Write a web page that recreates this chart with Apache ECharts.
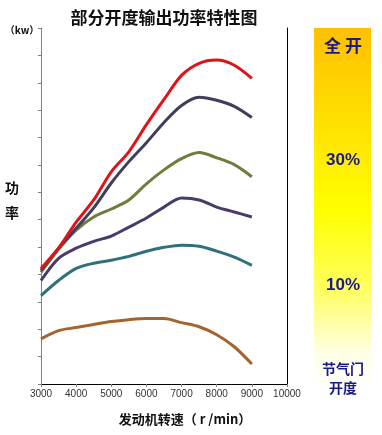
<!DOCTYPE html>
<html><head><meta charset="utf-8">
<script src="https://cdn.jsdelivr.net/npm/echarts@6/dist/echarts.min.js"></script>
<style>html,body{margin:0;padding:0;background:#fff;}#c{width:382px;height:435px;}</style>
</head><body><div id="c"></div>
<script>
var rpm = [3000,3500,4000,4500,5000,5500,6000,6500,7000,7500,8000,8500,9000];
var full   = [4.22,4.96,5.91,6.72,7.75,8.48,9.47,10.39,11.27,11.71,11.83,11.64,11.16];
var slate  = [4.15,4.96,5.69,6.43,7.34,8.12,8.81,9.55,10.17,10.47,10.36,10.14,9.73];
var olive  = [4.08,4.92,5.62,6.10,6.39,6.72,7.31,7.82,8.23,8.45,8.26,8.01,7.57];
var purple = [3.78,4.59,4.96,5.21,5.40,5.73,6.06,6.46,6.79,6.72,6.46,6.28,6.10];
var teal   = [3.23,3.78,4.22,4.41,4.52,4.66,4.85,4.99,5.07,5.03,4.85,4.63,4.33];
var brown  = [1.65,1.95,2.06,2.17,2.28,2.35,2.39,2.39,2.24,2.09,1.80,1.36,0.73];
var xTicks = [3000,4000,5000,6000,7000,8000,9000,10000];
var panelLabels = ['全 开','30%','10%'];

function pts(arr){ return rpm.map(function(x,i){ return [x, arr[i]]; }); }
function ser(arr,color){
  return {type:'line', data:pts(arr), smooth:0.3, symbol:'none', xAxisIndex:0, yAxisIndex:0,
    lineStyle:{color:color,width:3}, z:3};
}
var chart = echarts.init(document.getElementById('c'));
var navy = '#1a1a8a';
chart.setOption({
  animation:false,
  backgroundColor:'#fff',
  title:{text:'部分开度输出功率特性图', left:159, top:4, textAlign:'center',
    textStyle:{fontSize:17,fontWeight:'bold',color:'#111',fontFamily:'Noto Sans CJK SC'}},
  grid:{left:41,right:95,top:28,bottom:51},
  xAxis:[{type:'value',min:3000,max:10000,interval:1000,position:'bottom',
    axisLine:{lineStyle:{color:'#808080',width:1}},
    axisTick:{show:true,length:3,lineStyle:{color:'#808080'}},
    axisLabel:{fontSize:10,color:'#333',margin:5,fontFamily:'Liberation Sans',
      formatter:function(v){ return xTicks.indexOf(v) >= 0 ? String(v) : ''; }},
    splitLine:{show:false}},
   {type:'value',min:3000,max:10000,position:'top',
    axisLine:{show:true,lineStyle:{color:'#000',width:1}},
    axisTick:{show:false},axisLabel:{show:false},splitLine:{show:false}}],
  yAxis:[{type:'value',min:0,max:13,interval:1,position:'left',
    axisLine:{show:true,lineStyle:{color:'#808080',width:1}},
    axisTick:{show:true,length:3,inside:false,lineStyle:{color:'#808080'}},
    axisLabel:{show:false},splitLine:{show:false}},
   {type:'value',min:0,max:13,position:'right',
    axisLine:{show:true,lineStyle:{color:'#000',width:1}},
    axisTick:{show:false},axisLabel:{show:false},splitLine:{show:false}}],
  series:[
    ser(brown,'#a5642e'),
    ser(teal,'#2f7079'),
    ser(purple,'#4a3b6b'),
    ser(olive,'#6e7d3c'),
    ser(slate,'#3f3f5c'),
    ser(full,'#dd1418')
  ],
  graphic:[
    {type:'rect',shape:{x:314,y:28,width:57,height:362},silent:true,
      style:{fill:new echarts.graphic.LinearGradient(0,0,0,1,[
        {offset:0,color:'#ffc000'},{offset:0.5,color:'#ffff00'},
        {offset:0.72,color:'#ffff60'},{offset:0.9,color:'#ffffe8'},{offset:1,color:'#ffffff'}])}},
    {type:'text',x:343,y:46,style:{text:panelLabels[0],fill:navy,font:'bold 17px "Noto Sans CJK SC"',textAlign:'center',textVerticalAlign:'middle'}},
    {type:'text',x:343,y:160,style:{text:panelLabels[1],fill:navy,font:'bold 17px "Liberation Sans"',textAlign:'center',textVerticalAlign:'middle'}},
    {type:'text',x:343,y:285,style:{text:panelLabels[2],fill:navy,font:'bold 17px "Liberation Sans"',textAlign:'center',textVerticalAlign:'middle'}},
    {type:'text',x:343,y:369,style:{text:'节气门',fill:navy,font:'bold 14px "Noto Sans CJK SC"',textAlign:'center',textVerticalAlign:'middle'}},
    {type:'text',x:343,y:388,style:{text:'开度',fill:navy,font:'bold 14px "Noto Sans CJK SC"',textAlign:'center',textVerticalAlign:'middle'}},
    {type:'text',x:22,y:30,style:{text:'（kw）',fill:'#111',font:'bold 10px "Noto Sans CJK SC"',textAlign:'center',textVerticalAlign:'middle'}},
    {type:'text',x:12,y:188,style:{text:'功',fill:'#111',font:'bold 14px "Noto Sans CJK SC"',textAlign:'center',textVerticalAlign:'middle'}},
    {type:'text',x:12,y:213,style:{text:'率',fill:'#111',font:'bold 14px "Noto Sans CJK SC"',textAlign:'center',textVerticalAlign:'middle'}},
    {type:'text',x:185,y:419,style:{text:'发动机转速（ r /min）',fill:'#111',font:'bold 13px "Noto Sans CJK SC"',textAlign:'center',textVerticalAlign:'middle'}}
  ]
});
</script></body></html>
